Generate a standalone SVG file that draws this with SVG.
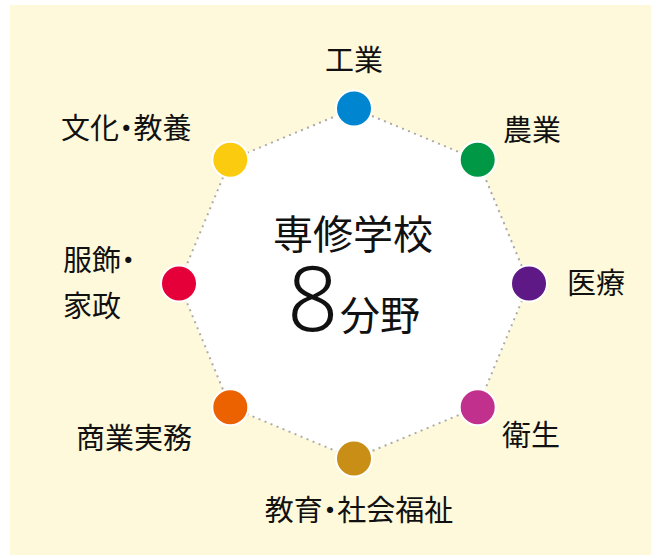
<svg xmlns="http://www.w3.org/2000/svg" width="661" height="558" viewBox="0 0 661 558">
<style>
.lbl{font-family:"Noto Sans CJK JP","Noto Sans CJK SC",sans-serif;font-size:29px;fill:#111;}
.ctr{font-family:"Noto Sans CJK JP","Noto Sans CJK SC",sans-serif;font-size:40px;fill:#111;}
.big{font-family:"Noto Sans","Noto Sans CJK JP",sans-serif;font-size:90px;font-weight:300;fill:#111;}
.dot{stroke:#fff;stroke-width:2;}
.p{font-feature-settings:"palt" 1;}
</style>
<rect x="10" y="5" width="641" height="550" fill="#FFF9DC"/>
<g id="connectors">
<polygon points="354,108.5 477.7,159.8 529,283.5 477.7,407.2 354,458.5 230.3,407.2 179,283.5 230.3,159.8" fill="#fff" stroke="#aaa" stroke-width="2" stroke-dasharray="2 4.5"/>
</g>
<g id="center">
<text class="ctr" x="353" y="249" text-anchor="middle">専修学校</text>
<text class="big" x="287" y="331">8</text>
<text class="ctr" x="340" y="330">分野</text>
</g>
<g id="n-kogyo"><circle class="dot" cx="354" cy="108.5" r="18" fill="#0086D1"/><text class="lbl" x="354" y="71" text-anchor="middle">工業</text></g>
<g id="n-nogyo"><circle class="dot" cx="477.7" cy="159.8" r="18" fill="#009844"/><text class="lbl" x="503" y="141">農業</text></g>
<g id="n-iryo"><circle class="dot" cx="529" cy="283.5" r="18" fill="#5E1987"/><text class="lbl" x="567" y="294">医療</text></g>
<g id="n-eisei"><circle class="dot" cx="477.7" cy="407.2" r="18" fill="#C1308C"/><text class="lbl" x="502" y="446">衛生</text></g>
<g id="n-kyoiku"><circle class="dot" cx="354" cy="458.5" r="18" fill="#C98E16"/><text class="lbl" x="359" y="521" text-anchor="middle">教育<tspan class="p">・</tspan>社会福祉</text></g>
<g id="n-shogyo"><circle class="dot" cx="230.3" cy="407.2" r="18" fill="#EC6100"/><text class="lbl" x="76" y="449">商業実務</text></g>
<g id="n-fukushoku"><circle class="dot" cx="179" cy="283.5" r="18" fill="#E60039"/><text class="lbl" x="63" y="271">服飾<tspan class="p">・</tspan></text><text class="lbl" x="63" y="317">家政</text></g>
<g id="n-bunka"><circle class="dot" cx="230.3" cy="159.8" r="18" fill="#FBCB10"/><text class="lbl" x="61" y="139">文化<tspan class="p">・</tspan>教養</text></g>
</svg>
